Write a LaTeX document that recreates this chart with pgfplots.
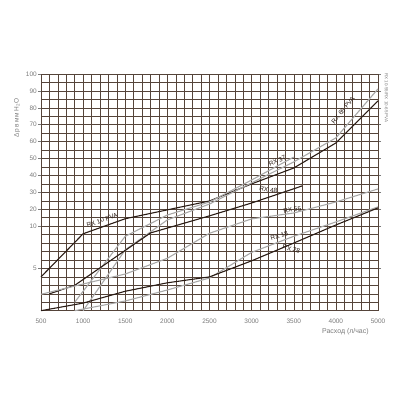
\documentclass[border=0pt]{standalone}
\usepackage{pgfplots}
\pgfplotsset{compat=1.18}
\usepackage{fontspec}
\setmainfont{Liberation Sans}
\definecolor{gridc}{HTML}{55443A}
\definecolor{darkc}{HTML}{2A1C15}
\definecolor{greyc}{HTML}{A8A8A8}
\definecolor{tickc}{HTML}{7A7A7A}
\begin{document}
\begin{tikzpicture}
\path[use as bounding box] (0,0) rectangle (400bp,400bp);
\begin{axis}[
 at={(41bp,89.3bp)}, anchor=south west,
 width=337bp, height=236.7bp, scale only axis,
 xmin=500, xmax=4500, ymin=0, ymax=140,
 x filter/.expression={x>4000 ? 4000+(x-4000)/2 : x},
 y filter/.expression={y<10 ? 5*y : 40+y},
 xtick={500,1000,1500,2000,2500,3000,3500,4000,4500},
 xticklabels={500,1000,1500,2000,2500,3000,3500,4000,5000},
 minor xtick={600,700,800,900,1100,1200,1300,1400,1600,1700,1800,1900,2100,2200,2300,2400,2600,2700,2800,2900,3100,3200,3300,3400,3600,3700,3800,3900,4100,4200,4300,4400},
 ytick={25,50,60,70,80,90,100,110,120,130,140},
 yticklabels={5,10,20,30,40,50,60,70,80,90,100},
 minor ytick={0,5,...,140},
 grid=both,
 grid style={gridc, line width=0.5bp},
 minor grid style={gridc, line width=0.5bp},
 axis line style={gridc, line width=0.6bp},
 xtick style={draw=none},
 ytick style={tickc, line width=0.5bp},
 minor tick length=0pt,
 major tick length=3bp,
 tick align=outside,
 tick label style={font=\fontsize{6.5}{7}\selectfont, text=tickc},
 yticklabel style={inner sep=1bp},
 xticklabel style={yshift=-2bp},
 clip=false,
]
% RX 10 PVA
\addplot[darkc, line width=1.1bp] coordinates {(500,4.0) (1000,9.1) (1500,14.4) (2500,24.9) (3000,35) (3500,44.4) (4000,59.2) (5000,84.1)};
% RX 65 PVA
\addplot[greyc, line width=1.1bp] coordinates {(1000,0) (1500,7.2) (2000,13.7) (2500,23.1) (3000,35.6) (3500,48) (4000,62.2) (5000,91.2)};
% RX 37
\addplot[greyc, line width=1.1bp] coordinates {(900,1.0) (1000,2.3) (1500,8.8) (2000,16.6) (2500,24.3) (3000,37.3) (3500,50.9)};
% RX 48
\addplot[darkc, line width=1.1bp] coordinates {(600,2.0) (900,3.0) (1800,9.2) (2500,16.1) (3000,23.7) (3600,33.8)};
% RX 55
\addplot[greyc, line width=1.1bp] coordinates {(500,1.94) (1000,3.16) (1500,4.34) (2000,6.2) (2500,9.16) (3000,14.3) (3500,17.8) (4000,24.3) (5000,32)};
% RX 18
\addplot[greyc, line width=1.1bp] coordinates {(900,0) (1500,1.15) (2000,2.45) (2500,3.87) (3000,6.9) (3500,8.8) (4000,12.5) (5000,21.4)};
% RX 28
\addplot[darkc, line width=1.1bp] coordinates {(500,0) (1000,0.9) (1500,2.3) (2000,3.3) (2500,4.0) (3000,5.9) (3500,8.0) (4000,10.7) (5000,20.8)};

\begin{scope}[every node/.style={font=\fontsize{6.5}{7}\selectfont, text=darkc, inner sep=0.5bp}]
\node[rotate=19] at (axis cs:1225,53.5) {RX 10 PVA};
\node[rotate=25] at (axis cs:3305,88.6) {RX 37};
\node[rotate=-8] at (axis cs:3198,71.4) {RX 48};
\node[rotate=10] at (axis cs:3483,59.6) {RX 55};
\node[rotate=18] at (axis cs:3329,44.2) {RX 18};
\node[rotate=-15] at (axis cs:3471,36.5) {RX 28};
\node[rotate=50] at (axis cs:4085,118.5) {RX 65 PVA};
\end{scope}
\node[rotate=90, font=\fontsize{6.5}{7}\selectfont, text=tickc] at (axis cs:215,114) {Δp в мм H\textsubscript{2}O};
\node[font=\fontsize{7}{8}\selectfont, text=tickc] at (axis cs:4113,-12.2) {Расход (л/час)};
\node[rotate=-90, font=\fontsize{4.5}{5}\selectfont, text=tickc] at (axis cs:4600,125.8) {RX 10-55/RX 10-65 PVA};
\end{axis}
\end{tikzpicture}
\end{document}
